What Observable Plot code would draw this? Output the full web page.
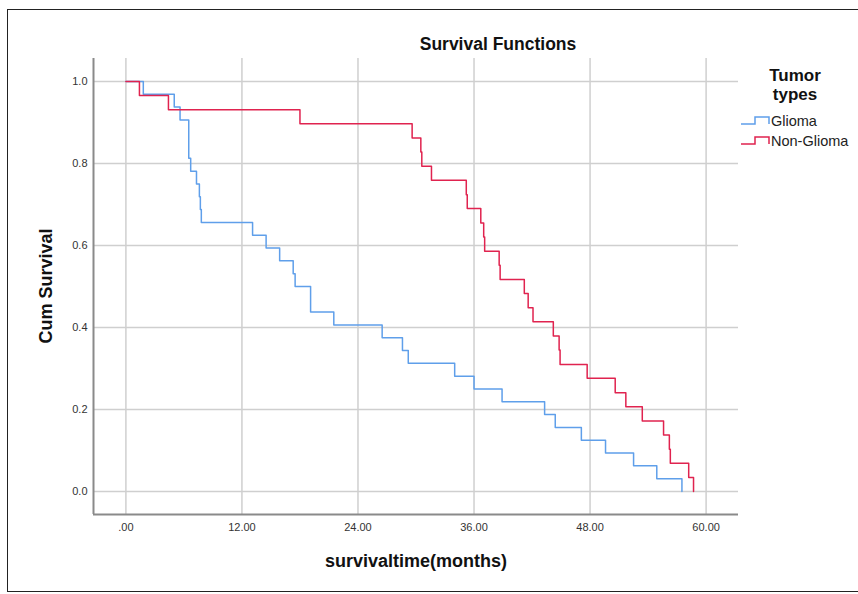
<!DOCTYPE html>
<html>
<head>
<meta charset="utf-8">
<script src="https://cdn.jsdelivr.net/npm/d3@7"></script>
<script src="https://cdn.jsdelivr.net/npm/@observablehq/plot@0.6"></script>
<style>
  html, body { margin: 0; padding: 0; background: #fff; overflow: hidden; }
  #wrap { position: relative; width: 858px; height: 594px; overflow: hidden; font-family: "Liberation Sans", Arial, sans-serif; }
  #border { position: absolute; left: 7px; top: 9px; width: 900px; height: 583px; border: 1.5px solid #222; border-right: none; box-sizing: border-box; }
  #chart { position: absolute; left: 0; top: 0; }
</style>
</head>
<body>
<div id="wrap">
  <div id="border"></div>
  <div id="chart"></div>
</div>
<script>
// Data (Kaplan–Meier step points)
const gliomaTime = [0, 1.8, 5.0, 5.6, 6.5, 6.7, 7.3, 7.6, 7.7, 7.8, 13.1, 14.5, 15.9, 17.3, 17.5, 19.1, 21.5, 26.5, 28.6, 29.2, 34.0, 36.0, 38.9, 43.3, 44.4, 47.1, 49.6, 52.5, 54.9, 57.5];
const gliomaSurv = [1, 0.969, 0.938, 0.906, 0.813, 0.781, 0.750, 0.719, 0.688, 0.656, 0.625, 0.594, 0.563, 0.531, 0.500, 0.438, 0.406, 0.375, 0.344, 0.313, 0.281, 0.250, 0.219, 0.188, 0.156, 0.125, 0.094, 0.063, 0.031, 0.000];
const nonGliomaTime = [0, 1.4, 4.4, 18.0, 29.6, 30.5, 30.6, 31.6, 35.2, 35.3, 36.7, 37.0, 37.1, 38.6, 38.7, 41.2, 41.6, 42.1, 44.2, 44.8, 44.9, 47.7, 50.6, 51.7, 53.4, 55.6, 56.2, 56.3, 58.2, 58.7];
const nonGliomaSurv = [1, 0.966, 0.931, 0.897, 0.862, 0.828, 0.793, 0.759, 0.724, 0.690, 0.655, 0.621, 0.586, 0.552, 0.517, 0.483, 0.448, 0.414, 0.379, 0.345, 0.310, 0.276, 0.241, 0.207, 0.172, 0.138, 0.103, 0.069, 0.034, 0.000];
const groups = ["Glioma", "Non-Glioma"];
const colors = ["#5f9fea", "#e0234f"];
const xTicks = [0, 12, 24, 36, 48, 60];
const yTicks = [0, 0.2, 0.4, 0.6, 0.8, 1.0];

const rows = [
  ...gliomaTime.map((t, i) => ({group: groups[0], t, s: gliomaSurv[i]})),
  ...nonGliomaTime.map((t, i) => ({group: groups[1], t, s: nonGliomaSurv[i]}))
];

const xDom = [-3.35, 63.35];
const yDom = [-0.056, 1.056];
const font = '"Liberation Sans", Arial, sans-serif';

const plot = Plot.plot({
  width: 858,
  height: 594,
  marginLeft: 93,
  marginRight: 120,
  marginTop: 58,
  marginBottom: 80,
  style: {fontFamily: font, fontSize: "11px", color: "#333", background: "transparent", overflow: "visible"},
  x: {domain: xDom, ticks: xTicks},
  y: {domain: yDom, ticks: yTicks},
  color: {domain: groups, range: colors},
  marks: [
    Plot.gridX(xTicks, {stroke: "#cfcfcf", strokeOpacity: 1, strokeWidth: 1.5}),
    Plot.gridY(yTicks, {stroke: "#cfcfcf", strokeOpacity: 1, strokeWidth: 1.5}),
    Plot.ruleX([xDom[0]], {stroke: "#8a8a8a", strokeWidth: 2}),
    Plot.ruleY([yDom[0]], {stroke: "#8a8a8a", strokeWidth: 2}),
    Plot.axisX(xTicks, {tickSize: 0, tickPadding: 9, label: null, fill: "#333",
      tickFormat: d => d === 0 ? ".00" : d.toFixed(2)}),
    Plot.axisY(yTicks, {tickSize: 0, tickPadding: 6, label: null, fill: "#333",
      tickFormat: d => d.toFixed(1)}),
    Plot.line(rows, {x: "t", y: "s", z: "group", stroke: "group", curve: "step-after", strokeWidth: 1.5})
  ]
});
document.getElementById("chart").appendChild(plot);

// Titles and legend
const svg = d3.select(plot);
function label(x, y, txt, size, anchor, bold, transform) {
  const t = svg.append("text")
    .attr("text-anchor", anchor)
    .attr("font-family", font).attr("font-size", size)
    .attr("font-weight", bold ? "bold" : "normal").attr("fill", "#111")
    .text(txt);
  if (transform) t.attr("transform", transform); else t.attr("x", x).attr("y", y);
  return t;
}
label(498, 50, "Survival Functions", 17.5, "middle", true);
label(0, 0, "Cum Survival", 18, "middle", true, "translate(52,286) rotate(-90)");
label(416, 567, "survivaltime(months)", 18, "middle", true);
label(795, 80.5, "Tumor", 17, "middle", true);
label(795, 99.5, "types", 17, "middle", true);
groups.forEach((g, i) => {
  const y = 121 + i * 20;
  svg.append("path")
    .attr("d", `M741,${y + 3}H755V${y - 4}H769V${y + 3}`)
    .attr("fill", "none").attr("stroke", colors[i]).attr("stroke-width", 1.5);
  label(771, y + 5, g, 14.5, "start", false).attr("fill", "#222");
});
</script>
</body>
</html>
